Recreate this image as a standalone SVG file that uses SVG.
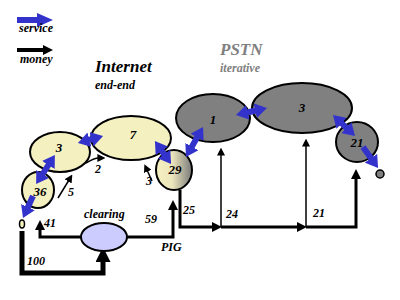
<svg xmlns="http://www.w3.org/2000/svg" width="400" height="300" viewBox="0 0 400 300" font-family="'Liberation Serif','DejaVu Serif',serif">
<style>
text{font-family:"Liberation Serif","DejaVu Serif",serif;font-style:italic;font-weight:bold;fill:#000}
.lbl{font-size:12px}
.num{font-size:13px;text-anchor:middle}
.title{font-size:17px}
.sub{font-size:12px}
.gray{fill:#808080}
.yel{fill:#f5f0c0;stroke:#000;stroke-width:2}
.gr{fill:#808080;stroke:#000;stroke-width:2}
.svc{stroke:#3333cc;stroke-width:6;fill:none;marker-start:url(#bl);marker-end:url(#bl)}
.svc1{stroke:#3333cc;stroke-width:6;fill:none;marker-end:url(#bl)}
.m{stroke:#000;fill:none}
</style>
<defs>
<marker id="bl" viewBox="0 0 8 10" markerUnits="userSpaceOnUse" markerWidth="12" markerHeight="15" refX="2" refY="5" orient="auto-start-reverse"><path d="M0,0L8,5L0,10z" fill="#3333cc"/></marker>
<marker id="k" viewBox="0 0 10 10" markerUnits="userSpaceOnUse" markerWidth="10" markerHeight="10" refX="2" refY="5" orient="auto"><path d="M0,0L10,5L0,10z" fill="#000"/></marker>
<marker id="ks" viewBox="0 0 10 10" markerUnits="userSpaceOnUse" markerWidth="8" markerHeight="8" refX="2" refY="5" orient="auto"><path d="M0,0L10,5L0,10z" fill="#000"/></marker>
<marker id="kb" viewBox="0 0 10 10" markerUnits="userSpaceOnUse" markerWidth="15" markerHeight="15" refX="2" refY="5" orient="auto"><path d="M0,0L10,5L0,10z" fill="#000"/></marker>
<linearGradient id="g29" x1="0" y1="0" x2="1" y2="0"><stop offset="0" stop-color="#f5f0c0"/><stop offset="0.45" stop-color="#ece6bc"/><stop offset="1" stop-color="#7a7a7a"/></linearGradient>
</defs>

<g id="legend">
<path d="M17,20H39" stroke="#3333cc" stroke-width="6"/>
<path d="M37,13L53,20L37,27z" fill="#3333cc"/>
<text class="lbl" x="19" y="32">service</text>
<path d="M17,50H44" stroke="#000" stroke-width="4"/>
<path d="M43,45L53,50L43,55z" fill="#000"/>
<text class="lbl" x="20" y="63">money</text>
</g>

<g id="titles">
<text class="title" x="95" y="72">Internet</text>
<text class="sub" x="95" y="89">end-end</text>
<text class="title gray" x="220" y="55">PSTN</text>
<text class="sub gray" x="220" y="72">iterative</text>
</g>

<g id="connectors">
<path class="m" stroke-width="5" d="M22,231V273H103V259" marker-end="url(#kb)"/>
<path class="m" stroke-width="3" d="M81,237H40V228" marker-end="url(#k)"/>
<path class="m" stroke-width="3" d="M127,237H173V208" marker-end="url(#k)"/>
<path class="m" stroke-width="3" d="M180,190V227H214" marker-end="url(#k)"/>
<path class="m" stroke-width="3" d="M221,227H299" marker-end="url(#k)"/>
<path class="m" stroke-width="3" d="M306,227H356V177" marker-end="url(#k)"/>
<path class="m" stroke-width="1.5" d="M221,227V154" marker-end="url(#ks)"/>
<path class="m" stroke-width="1.5" d="M306,227V145" marker-end="url(#ks)"/>
<path class="m" stroke-width="1.5" d="M86,163Q94,158 99,158" marker-end="url(#ks)"/>
<path class="m" stroke-width="1.5" d="M58,198L69,180" marker-end="url(#ks)"/>
<path class="m" stroke-width="1.5" d="M152,181L147,170" marker-end="url(#ks)"/>
</g>

<g id="n3">
<ellipse class="yel" cx="60" cy="152" rx="30" ry="20"/>
<text class="num" x="59" y="152">3</text>
</g>
<g id="n36">
<ellipse class="yel" cx="38" cy="190" rx="16" ry="18"/>
<text class="num" x="40" y="196">36</text>
</g>
<g id="n7">
<ellipse class="yel" cx="131" cy="138" rx="40" ry="22"/>
<text class="num" x="133" y="139">7</text>
</g>
<g id="n29">
<ellipse cx="174" cy="170" rx="18" ry="20" fill="url(#g29)" stroke="#000" stroke-width="2"/>
<text class="num" x="175" y="174">29</text>
</g>
<g id="n1">
<ellipse class="gr" cx="213" cy="118" rx="37" ry="24"/>
<text class="num" x="213" y="124">1</text>
</g>
<g id="n3p">
<ellipse class="gr" cx="302" cy="108" rx="50" ry="25"/>
<text class="num" x="302" y="112">3</text>
</g>
<g id="n21">
<ellipse class="gr" cx="357" cy="142" rx="21" ry="20"/>
<text class="num" x="357" y="147">21</text>
</g>
<g id="end">
<circle cx="380" cy="174" r="4" fill="#808080" stroke="#000" stroke-width="1.5"/>
</g>
<g id="start">
<ellipse cx="22" cy="224" rx="2.5" ry="4" fill="#f5f0c0" stroke="#000" stroke-width="1.5"/>
</g>
<g id="clearing">
<ellipse cx="104" cy="237" rx="23" ry="14" fill="#ccccff" stroke="#000" stroke-width="2"/>
<text class="lbl" x="84" y="218">clearing</text>
</g>

<g id="service">
<path class="svc" d="M50,162.5L41,176.5"/>
<path class="svc1" d="M33,196L26.7,209.8"/>
<path class="svc" d="M86.6,140.6L94.4,138.4"/>
<path class="svc" d="M160.1,148.4L165.9,156.6"/>
<path class="svc" d="M198.6,134.8L190.4,149.2"/>
<path class="svc" d="M244.8,113L258.2,110"/>
<path class="svc" d="M339.5,121.2L348.5,129.8"/>
<path class="svc1" d="M363,147L372.8,160.7"/>
</g>

<g id="labels">
<text class="lbl" x="95" y="173">2</text>
<text class="lbl" x="68" y="196">5</text>
<text class="lbl" x="146" y="185">3</text>
<text class="lbl" x="44" y="227">41</text>
<text class="lbl" x="145" y="223">59</text>
<text class="lbl" x="161" y="251">PIG</text>
<text class="lbl" x="27" y="265">100</text>
<text class="lbl" x="183" y="214">25</text>
<text class="lbl" x="226" y="218">24</text>
<text class="lbl" x="313" y="217">21</text>
</g>
</svg>
